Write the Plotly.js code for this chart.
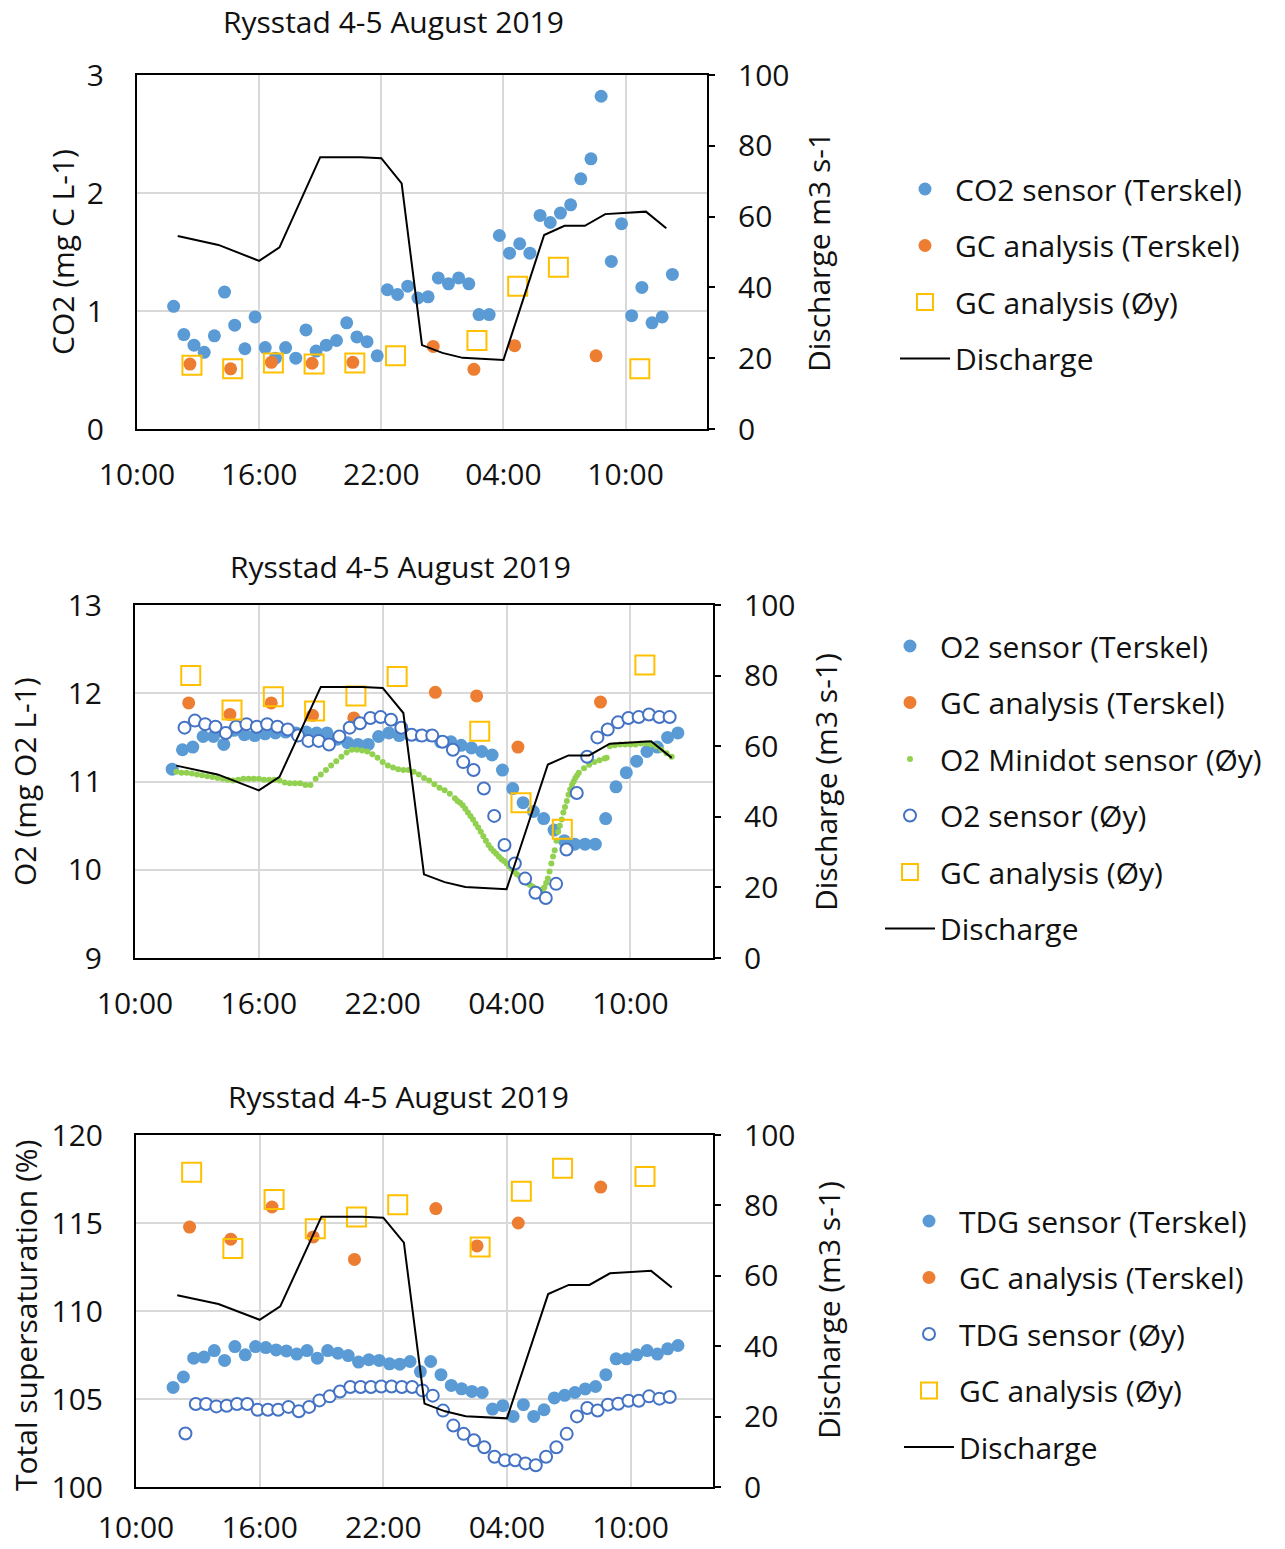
<!DOCTYPE html>
<html>
<head>
<meta charset="utf-8">
<script src="https://cdn.plot.ly/plotly-3.0.1.min.js"></script>
<style>
  html, body { margin: 0; padding: 0; background: #fff; }
  #chart { width: 1285px; height: 1549px; }
</style>
</head>
<body>
<div id="chart"></div>
<script>
// Time is expressed in hours since 00:00 on 4 August 2019
const tickHours = [10, 16, 22, 28, 34];
const tickLabels = ['10:00', '16:00', '22:00', '04:00', '10:00'];
const chartTitle = 'Rysstad 4-5 August 2019';

// Discharge (m3 s-1)
const dischargeTime = [12, 14, 16, 17, 19, 21, 22, 23, 24, 25, 26, 28, 30, 31, 32, 33, 35, 36];
const discharge = [54.5, 52.0, 47.5, 51.3, 76.8, 76.8, 76.5, 69.4, 23.7, 21.5, 20.1, 19.5, 54.8, 57.4, 57.4, 60.7, 61.4, 56.7];

// Sampling times
const sensorTimeTerskel = [11.8, 12.3, 12.8, 13.3, 13.8, 14.3, 14.8, 15.3, 15.8, 16.3, 16.8, 17.3, 17.8, 18.3, 18.8,
  19.3, 19.8, 20.3, 20.8, 21.3, 21.8, 22.3, 22.8, 23.3, 23.8, 24.3, 24.8, 25.3, 25.8, 26.3, 26.8, 27.3, 27.8, 28.3,
  28.8, 29.3, 29.8, 30.3, 30.8, 31.3, 31.8, 32.3, 32.8, 33.3, 33.8, 34.3, 34.8, 35.3, 35.8, 36.3];
const sensorTimeOy = [12.4, 12.9, 13.4, 13.9, 14.4, 14.9, 15.4, 15.9, 16.4, 16.9, 17.4, 17.9, 18.4, 18.9, 19.4,
  19.9, 20.4, 20.9, 21.4, 21.9, 22.4, 22.9, 23.4, 23.9, 24.4, 24.9, 25.4, 25.9, 26.4, 26.9, 27.4, 27.9, 28.4, 28.9,
  29.4, 29.9, 30.4, 30.9, 31.4, 31.9, 32.4, 32.9, 33.4, 33.9, 34.4, 34.9, 35.4, 35.9];
const gcTimeTerskel = [12.6, 14.6, 16.6, 18.6, 20.6, 24.55, 26.55, 28.55, 32.55];
const gcTimeOy = [12.7, 14.7, 16.7, 18.7, 20.7, 22.7, 26.7, 28.7, 30.7, 34.7];

// CO2 (mg C L-1)
const co2SensorTerskel = [1.04, 0.80, 0.71, 0.65, 0.79, 1.16, 0.88, 0.68, 0.95, 0.69, 0.60, 0.69, 0.60, 0.84, 0.66,
  0.71, 0.75, 0.90, 0.78, 0.74, 0.62, 1.18, 1.14, 1.21, 1.11, 1.12, 1.28, 1.23, 1.28, 1.23, 0.97, 0.97, 1.64, 1.49,
  1.57, 1.49, 1.81, 1.75, 1.83, 1.90, 2.12, 2.29, 2.82, 1.42, 1.74, 0.96, 1.20, 0.90, 0.95, 1.31];
const co2GcTerskel = [0.55, 0.51, 0.565, 0.557, 0.565, 0.70, 0.506, 0.706, 0.62];
const co2GcOy = [0.54, 0.51, 0.56, 0.55, 0.56, 0.62, 0.75, 1.21, 1.37, 0.51];

// O2 (mg O2 L-1)
const o2SensorTerskel = [11.14, 11.36, 11.39, 11.51, 11.51, 11.42, 11.58, 11.53, 11.52, 11.54, 11.55, 11.56, 11.55,
  11.56, 11.55, 11.55, 11.48, 11.44, 11.42, 11.42, 11.51, 11.55, 11.52, 11.53, 11.52, 11.52, 11.45, 11.45, 11.41,
  11.38, 11.34, 11.30, 11.13, 10.92, 10.76, 10.66, 10.58, 10.45, 10.33, 10.29, 10.29, 10.29, 10.58, 10.94, 11.10,
  11.23, 11.34, 11.39, 11.50, 11.55];
const o2GcTerskel = [11.89, 11.76, 11.89, 11.75, 11.72, 12.01, 11.97, 11.39, 11.90];
const minidotTime = [12.0, 12.25, 12.5, 12.75, 13.0, 13.25, 13.5, 13.75, 14.0, 14.25, 14.5, 14.75, 15.0, 15.25,
  15.5, 15.75, 16.0, 16.25, 16.5, 16.75, 17.0, 17.25, 17.5, 17.75, 18.0, 18.25, 18.5, 18.75, 19.0, 19.25, 19.5,
  19.75, 20.0, 20.25, 20.5, 20.75, 21.0, 21.25, 21.5, 21.75, 22.0, 22.25, 22.5, 22.75, 23.0, 23.25, 23.5, 23.75,
  24.0, 24.25, 24.5, 24.75, 25.0, 25.25, 25.5, 25.625, 25.75, 25.875, 26.0, 26.125, 26.25, 26.375, 26.5, 26.625,
  26.75, 26.875, 27.0, 27.125, 27.25, 27.375, 27.5, 27.625, 27.75, 27.875, 28.0, 28.125, 28.25, 28.375, 28.5,
  28.625, 28.75, 28.875, 29.0, 29.125, 29.25, 29.375, 29.5, 29.625, 29.75, 29.83, 29.92, 30.0, 30.08, 30.17, 30.25,
  30.33, 30.42, 30.5, 30.58, 30.67, 30.75, 30.83, 30.92, 31.0, 31.08, 31.17, 31.25, 31.33, 31.42, 31.5, 31.75,
  32.0, 32.25, 32.5, 32.75, 32.85, 33.0, 33.25, 33.5, 33.75, 34.0, 34.25, 34.5, 34.75, 35.0, 35.25, 35.5, 35.75, 36.0];
const o2Minidot = [11.11, 11.10, 11.10, 11.09, 11.08, 11.07, 11.06, 11.05, 11.04, 11.03, 11.02, 11.01, 11.02, 11.03,
  11.03, 11.03, 11.03, 11.02, 11.02, 11.02, 11.01, 10.99, 10.98, 10.98, 10.98, 10.96, 10.96, 11.03, 11.08, 11.13,
  11.18, 11.23, 11.28, 11.33, 11.36, 11.36, 11.35, 11.34, 11.31, 11.27, 11.22, 11.18, 11.16, 11.14, 11.13, 11.13,
  11.11, 11.08, 11.04, 11.01, 10.97, 10.93, 10.90, 10.86, 10.81, 10.78, 10.76, 10.73, 10.69, 10.65, 10.61, 10.57,
  10.52, 10.48, 10.43, 10.38, 10.33, 10.28, 10.24, 10.21, 10.18, 10.15, 10.12, 10.10, 10.07, 10.04, 10.01, 9.98,
  9.95, 9.93, 9.90, 9.87, 9.85, 9.83, 9.81, 9.79, 9.78, 9.77, 9.78, 9.80, 9.85, 9.90, 9.98, 10.07, 10.15, 10.22,
  10.33, 10.43, 10.50, 10.57, 10.65, 10.71, 10.78, 10.85, 10.91, 10.96, 11.00, 11.04, 11.07, 11.10, 11.15, 11.19,
  11.22, 11.24, 11.26, 11.27, 11.40, 11.41, 11.42, 11.42, 11.42, 11.42, 11.43, 11.43, 11.42, 11.40, 11.36, 11.32, 11.28];
const o2SensorOy = [11.61, 11.69, 11.65, 11.62, 11.55, 11.62, 11.65, 11.62, 11.65, 11.62, 11.59, 11.52, 11.46, 11.46,
  11.42, 11.51, 11.61, 11.66, 11.72, 11.73, 11.70, 11.61, 11.53, 11.52, 11.52, 11.45, 11.36, 11.22, 11.13, 10.92,
  10.61, 10.28, 10.07, 9.90, 9.74, 9.68, 9.84, 10.23, 10.87, 11.28, 11.50, 11.59, 11.67, 11.72, 11.73, 11.76, 11.73, 11.73];
const o2GcOy = [12.20, 11.81, 11.96, 11.80, 11.97, 12.19, 11.57, 10.76, 10.46, 12.32];

// Total dissolved gas supersaturation (%)
const tdgSensorTerskel = [105.66, 106.25, 107.32, 107.38, 107.75, 107.19, 107.98, 107.51, 107.98, 107.92, 107.79,
  107.73, 107.55, 107.75, 107.32, 107.75, 107.60, 107.47, 107.10, 107.23, 107.19, 107.00, 106.98, 107.13, 106.56,
  107.13, 106.38, 105.77, 105.58, 105.43, 105.37, 104.43, 104.62, 104.01, 104.68, 104.01, 104.39, 105.06, 105.21,
  105.37, 105.57, 105.71, 106.38, 107.28, 107.28, 107.51, 107.75, 107.55, 107.85, 108.04];
const tdgGcTerskel = [114.77, 114.08, 115.91, 114.21, 112.93, 115.82, 113.70, 115.00, 117.04];
const tdgSensorOy = [103.04, 104.72, 104.72, 104.58, 104.62, 104.72, 104.72, 104.39, 104.39, 104.39, 104.55, 104.30,
  104.55, 104.92, 105.15, 105.43, 105.68, 105.68, 105.68, 105.71, 105.71, 105.68, 105.68, 105.49, 105.19, 104.34,
  103.49, 103.02, 102.66, 102.26, 101.72, 101.52, 101.52, 101.34, 101.24, 101.72, 102.26, 103.02, 104.01, 104.49,
  104.35, 104.68, 104.73, 104.90, 104.90, 105.15, 105.02, 105.11];
const tdgGcOy = [117.89, 113.55, 116.34, 114.68, 115.34, 116.04, 113.64, 116.81, 118.11, 117.64];

// Page geometry helpers (page is 1285 x 1549 px, plot margins are zero)
const W = 1285, H = 1549;
const px = x => x / W;
const py = y => 1 - y / H;

const FONT = '"Open Sans", Lato, sans-serif';
const FS = 30;
const TXT = '#111';
const BLUE = '#5B9BD5', ORANGE = '#ED7D31', GOLD = '#FFC000', GREEN = '#92D050', DARKBLUE = '#4472C4';

const filled = (color) => ({ symbol: 'circle', size: 13, color: color });
const squareOpen = { symbol: 'square-open', size: 19, color: GOLD, line: { color: GOLD, width: 2 } };
const circleOpen = { symbol: 'circle', size: 12, color: '#ffffff', line: { color: DARKBLUE, width: 2 } };

function pts(name, x, y, marker, xa, ya, legend, group) {
  return { type: 'scatter', mode: 'markers', name: name, x: x, y: y, marker: marker,
           xaxis: xa, yaxis: ya, legend: legend, legendgroup: group, hoverinfo: 'x+y' };
}
function flow(xa, ya, legend, group) {
  return { type: 'scatter', mode: 'lines', name: 'Discharge', x: dischargeTime, y: discharge,
           line: { color: '#000', width: 2 }, xaxis: xa, yaxis: ya, legend: legend, legendgroup: group };
}

const data = [
  // CO2 panel
  pts('CO2 sensor (Terskel)', sensorTimeTerskel, co2SensorTerskel, filled(BLUE), 'x', 'y', 'legend', 'a1'),
  pts('GC analysis (Terskel)', gcTimeTerskel, co2GcTerskel, filled(ORANGE), 'x', 'y', 'legend', 'a2'),
  pts('GC analysis (Øy)', gcTimeOy, co2GcOy, squareOpen, 'x', 'y', 'legend', 'a3'),
  flow('x', 'y2', 'legend', 'a4'),
  // O2 panel
  pts('O2 sensor (Terskel)', sensorTimeTerskel, o2SensorTerskel, filled(BLUE), 'x2', 'y3', 'legend2', 'b1'),
  pts('GC analysis (Terskel)', gcTimeTerskel, o2GcTerskel, filled(ORANGE), 'x2', 'y3', 'legend2', 'b2'),
  pts('O2 Minidot sensor (Øy)', minidotTime, o2Minidot, { symbol: 'circle', size: 6, color: GREEN }, 'x2', 'y3', 'legend2', 'b3'),
  pts('O2 sensor (Øy)', sensorTimeOy, o2SensorOy, circleOpen, 'x2', 'y3', 'legend2', 'b4'),
  pts('GC analysis (Øy)', gcTimeOy, o2GcOy, squareOpen, 'x2', 'y3', 'legend2', 'b5'),
  flow('x2', 'y4', 'legend2', 'b6'),
  // TDG panel
  pts('TDG sensor (Terskel)', sensorTimeTerskel, tdgSensorTerskel, filled(BLUE), 'x3', 'y5', 'legend3', 'c1'),
  pts('GC analysis (Terskel)', gcTimeTerskel, tdgGcTerskel, filled(ORANGE), 'x3', 'y5', 'legend3', 'c2'),
  pts('TDG sensor (Øy)', sensorTimeOy, tdgSensorOy, circleOpen, 'x3', 'y5', 'legend3', 'c3'),
  pts('GC analysis (Øy)', gcTimeOy, tdgGcOy, squareOpen, 'x3', 'y5', 'legend3', 'c4'),
  flow('x3', 'y6', 'legend3', 'c5')
];

const tickFont = { family: FONT, size: FS, color: TXT };

function xAxis(left, right, anchor, standoff) {
  return { domain: [px(left), px(right)], anchor: anchor, range: [10, 38], tickmode: 'array',
           tickvals: tickHours, ticktext: tickLabels, showgrid: true, gridcolor: '#d9d9d9', gridwidth: 2,
           showline: true, linecolor: '#000', linewidth: 2, mirror: true, ticks: '', zeroline: false,
           tickfont: tickFont, ticklabelstandoff: standoff, fixedrange: true };
}
function yLeft(top, bottom, anchor, lo, hi, step) {
  return { domain: [py(bottom), py(top)], anchor: anchor, range: [lo, hi], dtick: step, tick0: lo,
           showgrid: true, gridcolor: '#d9d9d9', gridwidth: 2, showline: true, linecolor: '#000',
           linewidth: 2, ticks: '', zeroline: false, tickfont: tickFont, ticklabelstandoff: 25, fixedrange: true };
}
function yRight(overlay, anchor) {
  return { overlaying: overlay, anchor: anchor, side: 'right', range: [0, 100], dtick: 20, tick0: 0,
           showgrid: false, showline: true, linecolor: '#000', linewidth: 2, ticks: 'outside', ticklen: 6,
           tickwidth: 2, tickcolor: '#000', zeroline: false, tickfont: tickFont, ticklabelstandoff: 17,
           fixedrange: true };
}
function legendAt(x, y) {
  return { x: px(x), y: py(y), xanchor: 'left', yanchor: 'top', bgcolor: 'rgba(0,0,0,0)',
           font: { family: FONT, size: FS, color: TXT }, traceorder: 'grouped', tracegroupgap: 14.5,
           itemwidth: 50 };
}
function label(text, x, y, angle) {
  return { text: text, x: px(x), y: py(y), xref: 'paper', yref: 'paper', showarrow: false,
           textangle: angle || 0, xanchor: 'center', yanchor: 'middle',
           font: { family: FONT, size: FS, color: TXT } };
}

const layout = {
  width: W, height: H,
  margin: { l: 0, r: 0, t: 0, b: 0 },
  paper_bgcolor: '#fff', plot_bgcolor: '#fff',
  font: { family: FONT, size: FS, color: TXT },
  showlegend: true,
  xaxis: xAxis(137, 707, 'y', 18),
  yaxis: yLeft(75, 429, 'x', 0, 3, 1),
  yaxis2: yRight('y', 'x'),
  xaxis2: xAxis(135, 713, 'y3', 18),
  yaxis3: yLeft(605, 958, 'x2', 9, 13, 1),
  yaxis4: yRight('y3', 'x2'),
  xaxis3: xAxis(136, 713, 'y5', 13),
  yaxis5: yLeft(1135, 1487, 'x3', 100, 120, 5),
  yaxis6: yRight('y5', 'x3'),
  legend: legendAt(895, 163),
  legend2: legendAt(880, 620),
  legend3: legendAt(899, 1195),
  annotations: [
    label(chartTitle, 393, 22),
    label('CO2 (mg C L-1)', 62, 252, -90),
    label('Discharge m3 s-1', 818, 252, -90),
    label(chartTitle, 400, 566),
    label('O2 (mg O2 L-1)', 25, 782, -90),
    label('Discharge (m3 s-1)', 826, 782, -90),
    label(chartTitle, 398, 1096),
    label('Total supersaturation (%)', 25, 1316, -90),
    label('Discharge (m3 s-1)', 828, 1310, -90)
  ]
};

Plotly.newPlot('chart', data, layout, { displayModeBar: false, staticPlot: true });
</script>
</body>
</html>
